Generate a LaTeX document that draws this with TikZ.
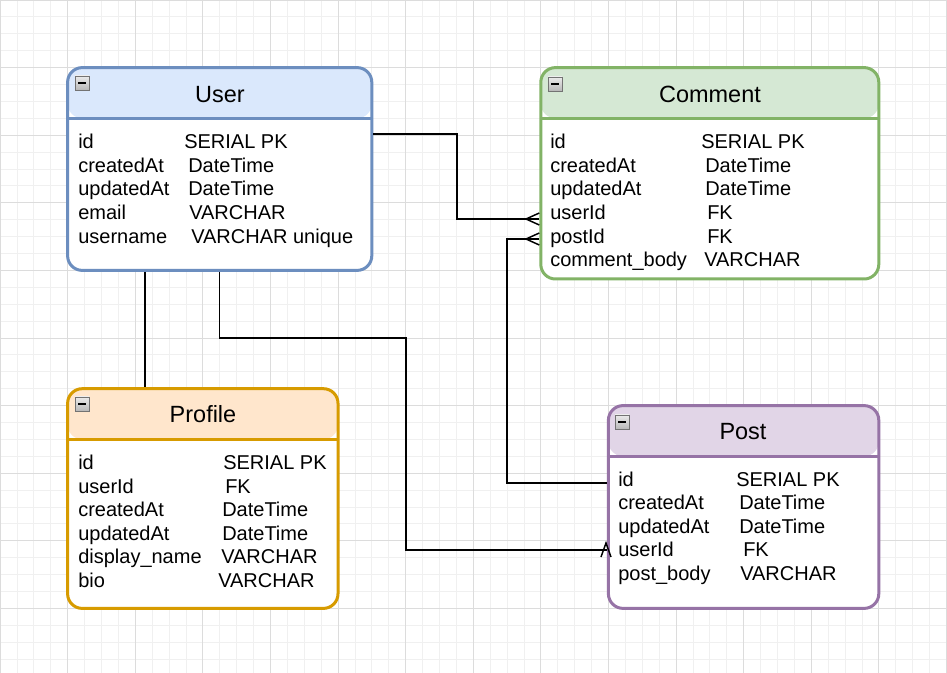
\documentclass[tikz,border=0pt]{standalone}
\usepackage{fontspec}
\setmainfont{Liberation Sans}
\definecolor{ustroke}{HTML}{6C8EBF}\definecolor{ufill}{HTML}{DAE8FC}
\definecolor{cstroke}{HTML}{82B366}\definecolor{cfill}{HTML}{D5E8D4}
\definecolor{prstroke}{HTML}{D79B00}\definecolor{prfill}{HTML}{FFE6CC}
\definecolor{pstroke}{HTML}{9673A6}\definecolor{pfill}{HTML}{E1D5E7}
\definecolor{gridminor}{HTML}{F0F0F0}\definecolor{gridmajor}{HTML}{DCDCDC}
\tikzset{
  tablebox/.style n args={2}{draw=#1, line width=2.25pt, rounded corners=11pt, fill=white, inner sep=0pt,
    path picture={
      \fill[#2] (path picture bounding box.north west) rectangle ([yshift=-38pt]path picture bounding box.north east);
      \draw[#1, line width=2.25pt] ([yshift=-38pt]path picture bounding box.north west) -- ([yshift=-38pt]path picture bounding box.north east);
    }},
  ttl/.style={anchor=base, inner sep=0pt, font=\fontsize{17.6}{20}\selectfont},
  fld/.style={anchor=base west, inner sep=0pt, font=\fontsize{15}{18}\selectfont},
  minusicon/.style={draw=black!55, line width=0.5pt, top color=black!8, bottom color=black!28, minimum size=10.5pt, inner sep=0pt,
    path picture={\draw[black, line width=0.9pt] ([xshift=2.4pt]path picture bounding box.west) -- ([xshift=-2.4pt]path picture bounding box.east);}},
  conn/.style={draw=black, line width=1.1pt},
}
\begin{document}
\begin{tikzpicture}[x=0.75pt, y=-0.75pt]
\useasboundingbox (0,0) rectangle (947,673);
\fill[white] (0,0) rectangle (947,673);
% grid
\foreach \i in {0,...,56} \draw[gridminor, line width=0.6pt] (\i*16.9,0) -- (\i*16.9,673);
\foreach \i in {0,...,39} \draw[gridminor, line width=0.6pt] (0,\i*16.9) -- (947,\i*16.9);
\foreach \i in {0,...,14} \draw[gridmajor, line width=0.6pt] (\i*67.6,0) -- (\i*67.6,673);
\foreach \i in {0,...,9} \draw[gridmajor, line width=0.6pt] (0,\i*67.6) -- (947,\i*67.6);

% tables
\node[tablebox={ustroke}{ufill}, minimum width=228.15pt, minimum height=152.1pt] (user) at (219.7,169) {};
\node[tablebox={cstroke}{cfill}, minimum width=253.5pt, minimum height=158.55pt] (comment) at (709.8,173.3) {};
\node[tablebox={prstroke}{prfill}, minimum width=202.8pt, minimum height=164.8pt] (profile) at (202.8,498.55) {};
\node[tablebox={pstroke}{pfill}, minimum width=202.8pt, minimum height=152.1pt] (post) at (743.6,507) {};

% minus icons
\node[minusicon] (um) at (82,83) {};
\node[minusicon] (cm) at (555,84) {};
\node[minusicon] (prm) at (82,404) {};
\node[minusicon] (pm) at (622,422) {};

% titles
\node[ttl] (ut) at (220,103) {User};
\node[ttl] (ct) at (710,103) {Comment};
\node[ttl] (prt) at (203,423) {Profile};
\node[ttl] (pt) at (743,440) {Post};

% User fields
\node[fld] (uk1) at (78,149) {id};          \node[fld] (uv1) at (184,149) {SERIAL PK};
\node[fld] (uk2) at (78,173) {createdAt};   \node[fld] (uv2) at (188,173) {DateTime};
\node[fld] (uk3) at (78,196) {updatedAt};   \node[fld] (uv3) at (188,196) {DateTime};
\node[fld] (uk4) at (78,220) {email};       \node[fld] (uv4) at (189,220) {VARCHAR};
\node[fld] (uk5) at (78,244) {username};    \node[fld] (uv5) at (191,244) {VARCHAR unique};

% Comment fields
\node[fld] (ck1) at (550,149) {id};            \node[fld] (cv1) at (701,149) {SERIAL PK};
\node[fld] (ck2) at (550,173) {createdAt};     \node[fld] (cv2) at (705,173) {DateTime};
\node[fld] (ck3) at (550,196) {updatedAt};     \node[fld] (cv3) at (705,196) {DateTime};
\node[fld] (ck4) at (550,220) {userId};        \node[fld] (cv4) at (707,220) {FK};
\node[fld] (ck5) at (550,244) {postId};        \node[fld] (cv5) at (707,244) {FK};
\node[fld] (ck6) at (550,267) {comment\_body}; \node[fld] (cv6) at (704,267) {VARCHAR};

% Profile fields
\node[fld] (rk1) at (78,470) {id};            \node[fld] (rv1) at (223,470) {SERIAL PK};
\node[fld] (rk2) at (78,494) {userId};        \node[fld] (rv2) at (225,494) {FK};
\node[fld] (rk3) at (78,517) {createdAt};     \node[fld] (rv3) at (222,517) {DateTime};
\node[fld] (rk4) at (78,541) {updatedAt};     \node[fld] (rv4) at (222,541) {DateTime};
\node[fld] (rk5) at (78,564) {display\_name}; \node[fld] (rv5) at (221,564) {VARCHAR};
\node[fld] (rk6) at (78,588) {bio};           \node[fld] (rv6) at (218,588) {VARCHAR};

% Post fields
\node[fld] (pk1) at (618,487) {id};          \node[fld] (pv1) at (736,487) {SERIAL PK};
\node[fld] (pk2) at (618,510) {createdAt};   \node[fld] (pv2) at (739,510) {DateTime};
\node[fld] (pk3) at (618,534) {updatedAt};   \node[fld] (pv3) at (739,534) {DateTime};
\node[fld] (pk4) at (618,557) {userId};      \node[fld] (pv4) at (743,557) {FK};
\node[fld] (pk5) at (618,581) {post\_body};  \node[fld] (pv5) at (740,581) {VARCHAR};

% helper coordinates
\coordinate (h1) at (0,134);
\coordinate (h2) at (457,219);
\coordinate (h3) at (0,219);
\coordinate (h4) at (0,483);
\coordinate (h5) at (507,239);
\coordinate (h6) at (0,239);
\coordinate (h7) at (406,338);
\coordinate (h8) at (0,550);
\coordinate (h9) at (145,0);
\coordinate (cf1) at (526,219);
\coordinate (cf2) at (526,239);
\coordinate (cr) at (606,543);

% User -> Comment.userId
\draw[conn] (user.east |- h1) -| (h2) -- (comment.west |- h3);
\draw[conn] (comment.west |- 0,213) -- (cf1) -- (comment.west |- 0,225);
% Post.id -> Comment.postId
\draw[conn] (post.west |- h4) -| (h5) -- (comment.west |- h6);
\draw[conn] (comment.west |- 0,233) -- (cf2) -- (comment.west |- 0,245);
% User -> Post.userId
\draw[conn] (user.south) |- (h7) |- (post.west |- h8);
\draw[conn] (601,557) -- (cr) -- (611,557);
% User -> Profile
\draw[conn] (user.south -| h9) -- (profile.north -| h9);
\end{tikzpicture}
\end{document}
